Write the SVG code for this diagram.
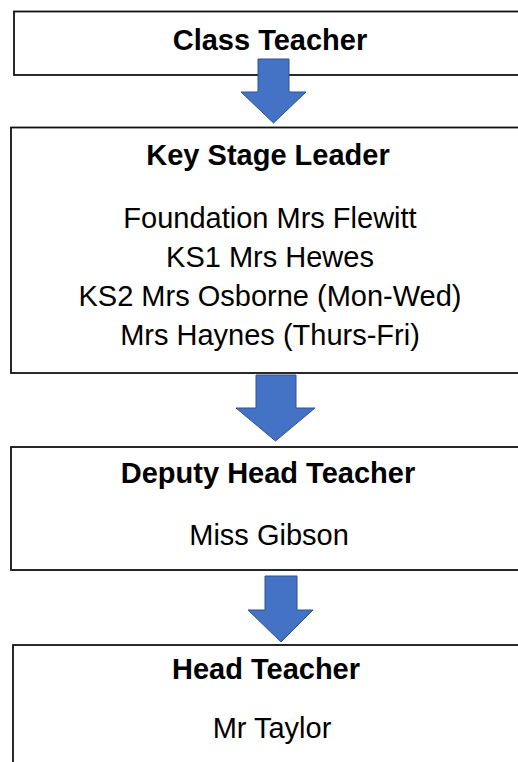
<svg xmlns="http://www.w3.org/2000/svg" width="518" height="762" viewBox="0 0 518 762">
<style>
  .box { fill: #ffffff; stroke: #111111; stroke-width: 1.8; }
  .t { font-family: "Liberation Sans", Arial, sans-serif; font-size: 29px; fill: #000000; text-anchor: middle; }
  .b { font-weight: bold; }
  .arrow { fill: #4472C4; stroke: #2F528F; stroke-width: 1; }
</style>
<rect width="518" height="762" fill="#ffffff"/>
<g id="node-class-teacher">
  <rect class="box" x="14" y="11.5" width="520" height="63.5"/>
  <text class="t b" x="270" y="50">Class Teacher</text>
</g>
<g id="node-key-stage-leader">
  <rect class="box" x="11" y="127.5" width="523" height="245.5"/>
  <text class="t b" x="268" y="165">Key Stage Leader</text>
  <text class="t" x="270" y="228">Foundation Mrs Flewitt</text>
  <text class="t" x="270" y="267">KS1 Mrs Hewes</text>
  <text class="t" x="270" y="306">KS2 Mrs Osborne (Mon-Wed)</text>
  <text class="t" x="270" y="345">Mrs Haynes (Thurs-Fri)</text>
</g>
<g id="node-deputy-head">
  <rect class="box" x="11" y="447" width="523" height="123"/>
  <text class="t b" x="268" y="483">Deputy Head Teacher</text>
  <text class="t" x="269" y="545">Miss Gibson</text>
</g>
<g id="node-head">
  <rect class="box" x="13" y="645" width="521" height="130"/>
  <text class="t b" x="266" y="679">Head Teacher</text>
  <text class="t" x="272" y="738">Mr Taylor</text>
</g>
<g id="connectors">
  <path class="arrow" d="M258,59 H289 V92 H306 L273.5,123 L241,92 H258 Z"/>
  <path class="arrow" d="M256,375 H296 V408 H315 L275.5,441 L236,408 H256 Z"/>
  <path class="arrow" d="M265,576 H297 V610 H313 L281,642 L248,610 H265 Z"/>
</g>
</svg>
